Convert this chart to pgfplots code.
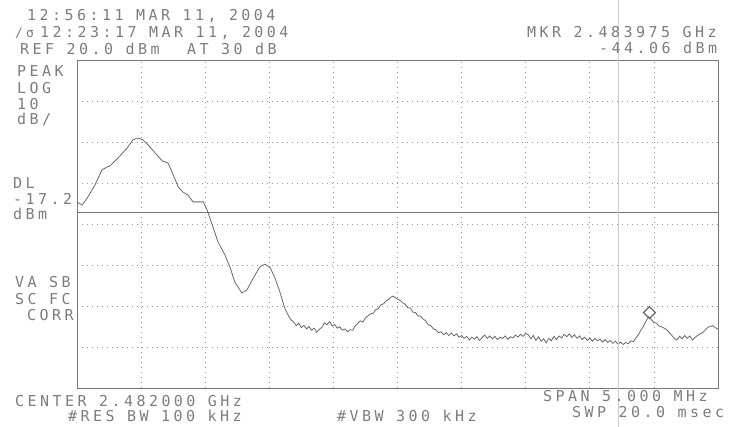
\documentclass[border=0pt]{standalone}
\usepackage{pgfplots}
\pgfplotsset{compat=1.18}
\usepackage{fontspec}
\newfontfamily\dm[LetterSpace=23]{DejaVu Sans Mono}
\definecolor{txt}{RGB}{125,125,125}
\definecolor{trc}{RGB}{105,105,105}
\definecolor{frm}{RGB}{120,120,120}
\definecolor{grd}{RGB}{150,150,150}
\pgfplotstableread{
x y
0.01 -14.7
0.08 -15.4
0.17 -13.4
0.28 -10.5
0.39 -6.8
0.47 -6.1
0.51 -5.9
0.64 -3.9
0.78 -1.5
0.87 0.5
0.95 1.0
1.03 0.5
1.11 -0.7
1.22 -2.7
1.33 -4.6
1.42 -5.1
1.50 -8.0
1.58 -11.0
1.65 -12.2
1.73 -12.9
1.81 -14.6
1.97 -14.6
2.03 -16.6
2.11 -20.2
2.20 -24.4
2.31 -27.6
2.39 -30.7
2.46 -34.1
2.57 -36.8
2.65 -36.1
2.75 -33.2
2.85 -30.5
2.93 -29.8
3.01 -30.5
3.09 -33.2
3.17 -36.8
3.24 -40.5
3.30 -42.4
3.34 -43.4
3.38 -43.9
3.42 -44.8
3.46 -44.2
3.50 -45.3
3.54 -44.7
3.58 -45.6
3.62 -45.0
3.66 -45.9
3.70 -45.4
3.74 -46.4
3.78 -45.7
3.82 -45.2
3.86 -44.1
3.90 -44.6
3.94 -43.8
3.98 -44.9
4.02 -44.5
4.06 -45.4
4.10 -45.1
4.14 -45.9
4.18 -45.6
4.22 -46.3
4.26 -45.8
4.30 -45.9
4.34 -44.9
4.38 -44.2
4.42 -43.6
4.46 -43.9
4.50 -42.9
4.54 -42.4
4.58 -41.9
4.62 -41.8
4.66 -40.9
4.70 -40.6
4.74 -39.7
4.78 -39.5
4.82 -38.8
4.86 -38.4
4.90 -37.8
4.93 -37.6
4.96 -37.9
5.00 -38.3
5.04 -38.6
5.08 -39.2
5.12 -39.6
5.16 -40.4
5.20 -40.5
5.24 -41.5
5.28 -41.6
5.32 -42.4
5.36 -42.5
5.40 -43.2
5.44 -43.6
5.48 -44.6
5.52 -44.8
5.56 -45.6
5.60 -45.8
5.64 -46.5
5.68 -46.3
5.72 -47.0
5.76 -46.5
5.80 -47.2
5.84 -46.6
5.88 -47.3
5.92 -46.8
5.96 -47.6
6.00 -47.2
6.04 -47.9
6.08 -47.4
6.12 -48.3
6.16 -47.6
6.20 -48.1
6.24 -47.5
6.28 -48.4
6.32 -47.7
6.36 -47.1
6.40 -47.9
6.44 -47.3
6.48 -48.0
6.52 -47.4
6.56 -48.2
6.60 -47.6
6.64 -47.9
6.68 -47.3
6.72 -48.1
6.76 -47.5
6.80 -47.8
6.84 -47.1
6.88 -47.6
6.92 -46.9
6.96 -47.4
7.00 -46.7
7.04 -47.0
7.08 -48.0
7.12 -47.2
7.16 -48.4
7.20 -47.5
7.24 -48.6
7.28 -48.0
7.32 -49.0
7.36 -47.9
7.40 -48.5
7.44 -47.4
7.48 -48.2
7.52 -47.3
7.56 -47.8
7.60 -46.9
7.64 -47.5
7.68 -46.8
7.72 -47.7
7.76 -47.0
7.80 -47.9
7.84 -47.3
7.88 -48.2
7.92 -47.6
7.96 -48.4
8.00 -47.8
8.04 -48.6
8.08 -47.9
8.12 -48.5
8.16 -48.1
8.20 -48.8
8.24 -48.2
8.28 -48.9
8.32 -48.4
8.36 -49.1
8.40 -48.6
8.44 -49.3
8.48 -48.8
8.52 -49.4
8.56 -48.9
8.60 -49.2
8.64 -48.5
8.68 -48.7
8.72 -47.8
8.76 -46.9
8.80 -45.8
8.84 -44.9
8.88 -43.6
8.92 -42.6
8.96 -43.3
9.00 -44.0
9.04 -44.2
9.08 -44.9
9.12 -45.1
9.16 -45.4
9.20 -45.8
9.24 -46.5
9.28 -47.2
9.32 -47.9
9.36 -48.3
9.40 -47.4
9.44 -48.0
9.48 -47.2
9.52 -47.9
9.56 -47.3
9.60 -48.3
9.64 -47.7
9.68 -47.2
9.72 -46.8
9.76 -46.5
9.80 -45.9
9.84 -45.2
9.88 -45.0
9.92 -44.8
9.96 -45.3
10.00 -45.7
}\trace
\begin{document}
\begin{tikzpicture}[x=1pt,y=1pt]
\fill[white] (0,0) rectangle (735,427);
\path[use as bounding box] (0,0) rectangle (735,427);
\begin{axis}[
  at={(77pt,39pt)}, anchor=south west,
  scale only axis, width=641pt, height=328pt,
  xmin=0, xmax=10, ymin=-60, ymax=20,
  xtick={0,1,...,10}, ytick={-60,-50,...,20},
  xticklabels={}, yticklabels={},
  major tick length=0pt,
  grid=major,
  major grid style={grd, line width=0.7pt, dash pattern=on 0.8pt off 4.2pt},
  axis line style={frm, line width=0.8pt},
  clip=false,
]
\addplot[frm, line width=0.9pt] coordinates {(0,-17.2) (10,-17.2)};
\addplot[trc, line width=0.8pt] table[x=x,y=y] {\trace};
\addplot[only marks, mark=square, mark size=4.2pt, mark options={rotate=45, trc, line width=1.2pt, fill=white}] coordinates {(8.93,-41.6)};
\end{axis}
\draw[gray!40, line width=0.6pt] (618,0) -- (618,427);
\begin{scope}[every node/.style={inner sep=0pt, anchor=base west, text=txt, font=\dm\fontsize{15}{15}\selectfont}]
\node at (27,406.5) {12:56:11 MAR 11, 2004};
\node at (15,389.5) {\fontsize{13}{13}\selectfont /σ};
\node at (40,389.5) {12:23:17 MAR 11, 2004};
\node at (20,372.5) {REF 20.0 dBm};
\node at (187,372.5) {AT 30 dB};
\node at (527,389.5) {MKR 2.483975 GHz};
\node at (599,373.5) {-44.06 dBm};
\node at (17,350.5) {PEAK};
\node at (17,333.5) {LOG};
\node at (17,317.5) {10};
\node at (17,302.5) {dB/};
\node at (13,238.5) {DL};
\node at (13,222.5) {-17.2};
\node at (13,207.5) {dBm};
\node at (15,139.5) {VA SB};
\node at (15,122.5) {SC FC};
\node at (27,106.5) {CORR};
\node at (15,20.5) {CENTER 2.482000 GHz};
\node at (68,5.5) {\#RES BW 100 kHz};
\node at (337,5.5) {\#VBW 300 kHz};
\node at (543,25.5) {SPAN 5.000 MHz};
\node at (572,9.5) {SWP 20.0 msec};
\end{scope}
\end{tikzpicture}
\end{document}
